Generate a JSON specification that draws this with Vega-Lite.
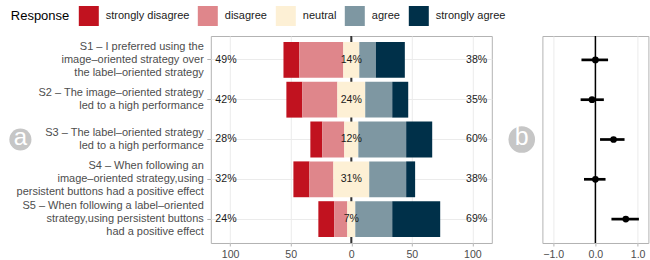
{
  "$schema": "https://vega.github.io/schema/vega-lite/v6.json",
  "autosize": {"type": "pad"},
  "padding": {"left": 8.8, "top": 6, "right": 0, "bottom": 0},
  "background": "white",
  "bounds": "flush",
  "spacing": 50.6,
  "config": {
    "font": "Liberation Sans",
    "view": {"stroke": "#b3b3b3", "strokeWidth": 1},
    "axis": {
      "domain": false,
      "labelFont": "Liberation Sans",
      "labelColor": "#4d4d4d",
      "labelFontSize": 10.6,
      "tickColor": "#b3b3b3",
      "tickSize": 3,
      "gridColor": "#ebebeb",
      "gridWidth": 1,
      "title": null
    }
  },
  "datasets": {
    "survey": [
      {"statement": "S1 – I preferred using the|image–oriented strategy over|the label–oriented strategy", "strongly disagree": 13.1, "disagree": 36.3, "neutral": 13.2, "agree": 13.7, "strongly agree": 23.9, "left": "49%", "mid": "14%", "right": "38%", "est": 0.0, "lo": -0.33, "hi": 0.30},
      {"statement": "S2 – The image–oriented strategy|led to a high performance", "strongly disagree": 13.2, "disagree": 28.9, "neutral": 23.0, "agree": 22.3, "strongly agree": 13.2, "left": "42%", "mid": "24%", "right": "35%", "est": -0.08, "lo": -0.35, "hi": 0.20},
      {"statement": "S3 – The label–oriented strategy|led to a high performance", "strongly disagree": 9.9, "disagree": 18.1, "neutral": 11.6, "agree": 39.5, "strongly agree": 21.5, "left": "28%", "mid": "12%", "right": "60%", "est": 0.43, "lo": 0.11, "hi": 0.69},
      {"statement": "S4 – When following an|image–oriented strategy,using|persistent buttons had a positive effect", "strongly disagree": 13.2, "disagree": 19.8, "neutral": 29.6, "agree": 30.5, "strongly agree": 7.4, "left": "32%", "mid": "31%", "right": "38%", "est": 0.0, "lo": -0.27, "hi": 0.24},
      {"statement": "S5 – When following a label–oriented|strategy,using persistent buttons|had a positive effect", "strongly disagree": 13.2, "disagree": 10.7, "neutral": 6.6, "agree": 30.5, "strongly agree": 39.6, "left": "24%", "mid": "7%", "right": "69%", "est": 0.72, "lo": 0.38, "hi": 1.03}
    ]
  },
  "hconcat": [
    {
      "width": 281,
      "height": 207,
      "layer": [
        {
          "data": {"values": [{}]},
          "mark": {"type": "rule", "color": "#333333", "strokeWidth": 2},
          "encoding": {
            "x": {"datum": 0, "type": "quantitative", "scale": {"domain": [-116, 116], "nice": false, "zero": false}}
          }
        },
        {
          "data": {"name": "survey"},
          "transform": [
            {"fold": ["strongly disagree", "disagree", "neutral", "agree", "strongly agree"], "as": ["Response", "pct"]},
            {"calculate": "indexof(['strongly disagree','disagree','neutral','agree','strongly agree'], datum.Response)", "as": "ord"},
            {"calculate": "datum.ord < 2 ? datum.pct : (datum.ord == 2 ? datum.pct / 2 : 0)", "as": "neg"},
            {"stack": "pct", "groupby": ["statement"], "sort": [{"field": "ord", "order": "ascending"}], "as": ["v1", "v2"]},
            {"joinaggregate": [{"op": "sum", "field": "neg", "as": "offset"}], "groupby": ["statement"]},
            {"calculate": "datum.v1 - datum.offset", "as": "xs"},
            {"calculate": "datum.v2 - datum.offset", "as": "xe"}
          ],
          "mark": {"type": "bar"},
          "encoding": {
            "x": {
              "field": "xs", "type": "quantitative",
              "scale": {"domain": [-116, 116], "nice": false, "zero": false},
              "axis": {
                "values": [-100, -75, -50, -25, 0, 25, 50, 75, 100],
                "labelExpr": "datum.value % 50 == 0 ? abs(datum.value) : ''",
                "tickOpacity": {"condition": {"test": "datum.value % 50 != 0", "value": 0}, "value": 1},
                "grid": true,
                "labelPadding": 4
              }
            },
            "x2": {"field": "xe"},
            "y": {
              "field": "statement", "type": "nominal", "sort": null,
              "scale": {"paddingInner": 0.1, "paddingOuter": 0.15},
              "axis": {
                "labelExpr": "split(datum.value, '|')",
                "labelFontSize": 11,
                "labelLineHeight": 13,
                "labelLimit": 0,
                "labelOffset": {"condition": {"test": "length(split(datum.value, '|')) == 3", "value": -13}, "value": -6.5},
                "tickSize": 4,
                "labelPadding": 3.5,
                "grid": true,
                "bandPosition": 0.5
              }
            },
            "color": {
              "field": "Response", "type": "nominal",
              "scale": {
                "domain": ["strongly disagree", "disagree", "neutral", "agree", "strongly agree"],
                "range": ["#C1121F", "#DF868B", "#FDF0D5", "#7E97A2", "#003049"]
              },
              "legend": {
                "orient": "none",
                "legendX": -200,
                "legendY": -30,
                "direction": "horizontal",
                "title": "Response",
                "titleOrient": "left",
                "titleFontSize": 13,
                "titleFontWeight": "normal",
                "titleColor": "#000000",
                "titlePadding": 9,
                "labelFontSize": 11,
                "labelColor": "#1a1a1a",
                "symbolType": "square",
                "symbolSize": 400,
                "symbolStrokeWidth": 0,
                "symbolOpacity": 1,
                "labelOffset": 7,
                "columnPadding": 8
              }
            }
          }
        },
        {
          "data": {"name": "survey"},
          "mark": {"type": "text", "fontSize": 10.6, "color": "#1a1a1a", "align": "center", "baseline": "middle"},
          "encoding": {
            "x": {"datum": -103.5, "type": "quantitative", "scale": {"domain": [-116, 116], "nice": false, "zero": false}},
            "y": {"field": "statement", "type": "nominal", "sort": null},
            "text": {"field": "left"}
          }
        },
        {
          "data": {"name": "survey"},
          "mark": {"type": "text", "fontSize": 10.6, "color": "#1a1a1a", "align": "center", "baseline": "middle"},
          "encoding": {
            "x": {"datum": 0, "type": "quantitative", "scale": {"domain": [-116, 116], "nice": false, "zero": false}},
            "y": {"field": "statement", "type": "nominal", "sort": null},
            "text": {"field": "mid"}
          }
        },
        {
          "data": {"name": "survey"},
          "mark": {"type": "text", "fontSize": 10.6, "color": "#1a1a1a", "align": "center", "baseline": "middle"},
          "encoding": {
            "x": {"datum": 103.5, "type": "quantitative", "scale": {"domain": [-116, 116], "nice": false, "zero": false}},
            "y": {"field": "statement", "type": "nominal", "sort": null},
            "text": {"field": "right"}
          }
        },
        {
          "data": {"values": [{"tag": "a", "statement": "S3 – The label–oriented strategy|led to a high performance"}]},
          "mark": {"type": "point", "filled": true, "size": 490, "color": "#c6c6c6", "opacity": 1},
          "encoding": {
            "x": {"datum": -273.2, "type": "quantitative", "scale": {"domain": [-116, 116], "nice": false, "zero": false}},
            "y": {"field": "statement", "type": "nominal", "sort": null}
          }
        },
        {
          "data": {"values": [{"tag": "a", "statement": "S3 – The label–oriented strategy|led to a high performance"}]},
          "mark": {"type": "text", "fontSize": 24, "color": "white", "align": "center", "baseline": "alphabetic", "dy": 6},
          "encoding": {
            "x": {"datum": -273.2, "type": "quantitative", "scale": {"domain": [-116, 116], "nice": false, "zero": false}},
            "y": {"field": "statement", "type": "nominal", "sort": null},
            "text": {"field": "tag"}
          }
        }
      ]
    },
    {
      "width": 106,
      "height": 207,
      "layer": [
        {
          "data": {"values": [{}]},
          "mark": {"type": "rule", "color": "#000000", "strokeWidth": 1.5},
          "encoding": {
            "x": {"datum": 0, "type": "quantitative", "scale": {"domain": [-1.255, 1.255], "nice": false, "zero": false}}
          }
        },
        {
          "data": {"name": "survey"},
          "mark": {"type": "rule", "color": "#000000", "strokeWidth": 2.7},
          "encoding": {
            "x": {
              "field": "lo", "type": "quantitative",
              "scale": {"domain": [-1.255, 1.255], "nice": false, "zero": false},
              "axis": {
                "values": [-1, -0.75, -0.5, -0.25, 0, 0.25, 0.5, 0.75, 1],
                "labelExpr": "datum.value % 1 == 0 ? format(datum.value, '.1f') : ''",
                "tickOpacity": {"condition": {"test": "datum.value % 0.5 != 0", "value": 0}, "value": 1},
                "grid": true,
                "labelPadding": 4
              }
            },
            "x2": {"field": "hi"},
            "y": {
              "field": "statement", "type": "nominal", "sort": null,
              "scale": {"paddingInner": 0.1, "paddingOuter": 0.15},
              "axis": null
            }
          }
        },
        {
          "data": {"name": "survey"},
          "mark": {"type": "point", "filled": true, "size": 45, "color": "#000000", "opacity": 1},
          "encoding": {
            "x": {"field": "est", "type": "quantitative", "scale": {"domain": [-1.255, 1.255], "nice": false, "zero": false}},
            "y": {"field": "statement", "type": "nominal", "sort": null}
          }
        },
        {
          "data": {"values": [{"tag": "b", "statement": "S3 – The label–oriented strategy|led to a high performance"}]},
          "mark": {"type": "point", "filled": true, "size": 707, "color": "#c6c6c6", "opacity": 1},
          "encoding": {
            "x": {"datum": -1.744, "type": "quantitative", "scale": {"domain": [-1.255, 1.255], "nice": false, "zero": false}},
            "y": {"field": "statement", "type": "nominal", "sort": null}
          }
        },
        {
          "data": {"values": [{"tag": "b", "statement": "S3 – The label–oriented strategy|led to a high performance"}]},
          "mark": {"type": "text", "fontSize": 25, "color": "white", "align": "center", "baseline": "alphabetic", "dy": 6},
          "encoding": {
            "x": {"datum": -1.744, "type": "quantitative", "scale": {"domain": [-1.255, 1.255], "nice": false, "zero": false}},
            "y": {"field": "statement", "type": "nominal", "sort": null},
            "text": {"field": "tag"}
          }
        }
      ]
    }
  ]
}
